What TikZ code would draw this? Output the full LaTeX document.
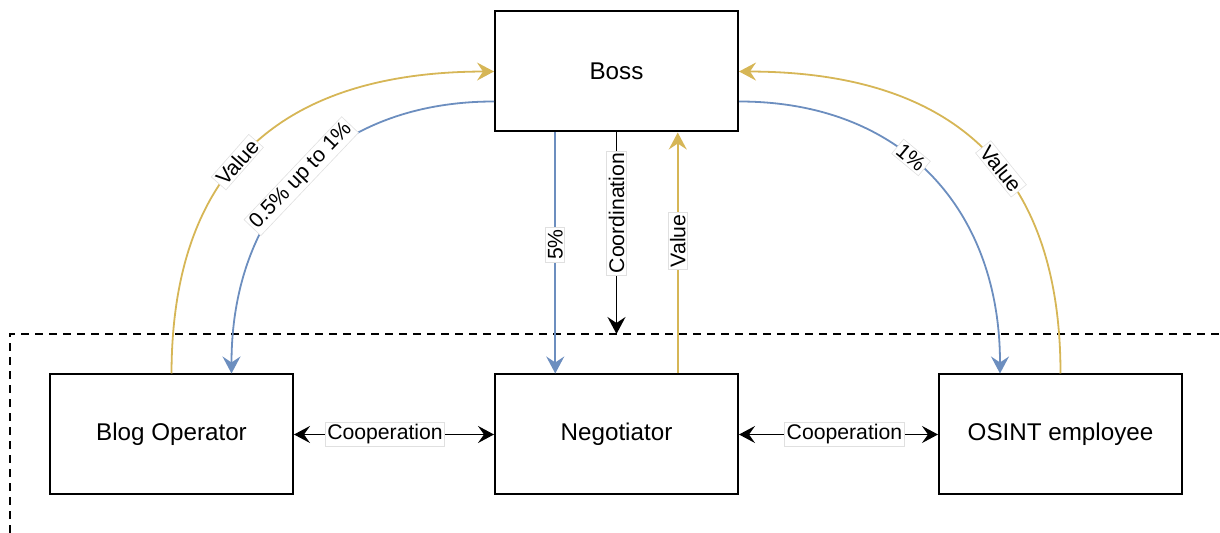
\documentclass[tikz,border=0pt]{standalone}
\usepackage{fontspec}
\setmainfont{Liberation Sans}
\usetikzlibrary{arrows.meta,calc}
\definecolor{goldline}{HTML}{D6B656}
\definecolor{blueline}{HTML}{6C8EBF}

\begin{document}
\begin{tikzpicture}[x=0.5pt,y=-0.5pt,
  role/.style={draw, line width=1pt, minimum width=121.5pt, minimum height=60pt,
    inner sep=0pt, font=\fontsize{12.1}{14}\selectfont},
  flow/.style={line width=0.9pt, -{Stealth[length=8.5pt,width=9pt,inset=3pt]}},
  both/.style={line width=0.9pt, {Stealth[length=8pt,width=8.5pt,inset=3pt]}-{Stealth[length=8pt,width=8.5pt,inset=3pt]}},
  lbl/.style={fill=white, draw=black!12, line width=0.3pt, inner sep=1pt, text=black,
    font=\fontsize{10.6}{12}\selectfont},
  zone/.style={line width=1pt, dash pattern=on 4pt off 3pt}
]
\useasboundingbox (0,0) rectangle (1220,533);

% boundary of the lower group
\draw[zone] (10,533) -- (10,334) -- (1220,334);

% roles
\node[role] (boss)  at (616.5,71.5)  {Boss};
\node[role] (blog)  at (171.5,434.5) {Blog Operator};
\node[role] (neg)   at (616.5,434.5) {Negotiator};
\node[role] (osint) at (1060.5,434.5) {OSINT employee};

\coordinate (cut) at (616.5,334);

% vertical links between the boss and the negotiator
\draw[flow, blueline] ($(boss.south west)!0.25!(boss.south east)$)
  -- node[lbl, pos=0.465, rotate=90] {5\%} ($(neg.north west)!0.25!(neg.north east)$);
\draw[flow, black] (boss.south)
  -- node[lbl, pos=0.4, rotate=90] {Coordination} (cut);
\draw[flow, goldline] ($(neg.north west)!0.75!(neg.north east)$)
  -- node[lbl, pos=0.55, rotate=90] {Value} ($(boss.south west)!0.75!(boss.south east)$);

% curved links on the left
\draw[flow, goldline] (blog.north) .. controls (172,170) and (280,72) ..
  node[lbl, pos=0.45, sloped] {Value} (boss.west);
\draw[flow, blueline] ($(boss.west)+(0,30)$) .. controls (330,101.5) and (231.5,210) ..
  node[lbl, pos=0.5, sloped] {0.5\% up to 1\%} ($(blog.north)+(60,0)$);

% curved links on the right
\draw[flow, blueline] ($(boss.east)+(0,30)$) .. controls (903,101.5) and (1000,210) ..
  node[lbl, pos=0.43, sloped] {1\%} ($(osint.north)+(-60.5,0)$);
\draw[flow, goldline] (osint.north) .. controls (1060.5,170) and (953,72) ..
  node[lbl, pos=0.43, sloped] {Value} (boss.east);

% cooperation links
\draw[both] (blog) -- node[lbl, pos=0.455] {Cooperation} (neg);
\draw[both] (neg) -- node[lbl, pos=0.53] {Cooperation} (osint);
\end{tikzpicture}
\end{document}
